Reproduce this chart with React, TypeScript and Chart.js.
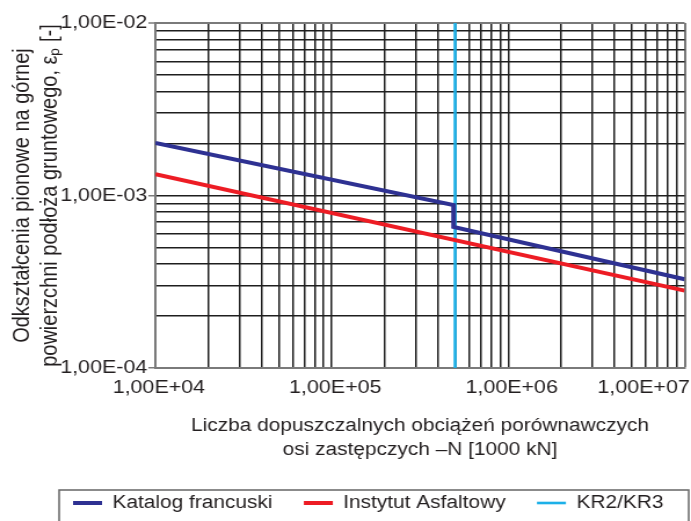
import { useEffect, useRef } from 'react';
import { Chart, registerables } from 'chart.js';

Chart.register(...registerables);

// ---------- data ----------
const katalogN = [1e4, 4.9e5, 4.9e5, 1e7];
const katalogEps = [2.02e-3, 8.8e-4, 6.57e-4, 3.27e-4];

const instytutN = [1e4, 1e7];
const instytutEps = [1.33e-3, 2.81e-4];

const kr23N = [5e5, 5e5];
const kr23Eps = [1e-4, 1e-2];

const seriesLabels = ['Katalog francuski', 'Instytut Asfaltowy', 'KR2/KR3'];

const xGridValues = [
  1e4, 2e4, 3e4, 4e4, 5e4, 6e4, 7e4, 8e4, 9e4,
  1e5, 2e5, 3e5, 4e5, 5e5, 6e5, 7e5, 8e5, 9e5,
  1e6, 2e6, 3e6, 4e6, 5e6, 6e6, 7e6, 8e6, 9e6,
  1e7,
];
const xLabelValues = [1e4, 1e5, 1e6, 1e7];
const xTickLabels = ['1,00E+04', '1,00E+05', '1,00E+06', '1,00E+07'];

const yGridValues = [
  1e-4, 2e-4, 3e-4, 4e-4, 5e-4, 6e-4, 7e-4, 8e-4, 9e-4,
  1e-3, 2e-3, 3e-3, 4e-3, 5e-3, 6e-3, 7e-3, 8e-3, 9e-3,
  1e-2,
];
const yLabelValues = [1e-4, 1e-3, 1e-2];
const yTickLabels = ['1,00E-04', '1,00E-03', '1,00E-02'];

const xTitle = ['Liczba dopuszczalnych obciążeń porównawczych', 'osi zastępczych –N [1000 kN]'];
const yTitle = ['Odkształcenia pionowe na górnej', 'powierzchni podłoża gruntowego, εₚ [-]'];

// ---------- style ----------
const FONT = '"Liberation Sans", Arial, Helvetica, sans-serif';
const TEXT = '#231f20';
const GRID = '#1e1e1e';
const FRAME = '#7a7a7a';
const BLUE = '#2e3192';
const RED = '#ed1c24';
const CYAN = '#1cb0e8';

const VIEW_W = 691;
const VIEW_H = 521;
const STRETCH = 1.16;
const CANVAS_W = Math.round(VIEW_W / STRETCH);

const near = (a: number, b: number) => Math.abs(a - b) <= Math.abs(b) * 1e-9;

const xLabelPlugin = {
  id: 'xLabels',
  afterDraw(chart: any) {
    const sc = chart.scales.x;
    const ctx = chart.ctx;
    ctx.save();
    ctx.font = `18.5px ${FONT}`;
    ctx.fillStyle = TEXT;
    ctx.textAlign = 'center';
    ctx.textBaseline = 'middle';
    xLabelValues.forEach((v, i) => {
      const label = xTickLabels[i];
      const w = ctx.measureText(label).width;
      let cx = sc.getPixelForValue(v) + 3;
      cx = Math.min(cx, chart.width - 1 - w / 2);
      cx = Math.max(cx, w / 2 + 1);
      ctx.fillText(label, cx, chart.chartArea.bottom + 20);
    });
    ctx.restore();
  },
};

const boxLegendPlugin = {
  id: 'boxLegend',
  afterDraw(chart: any) {
    const ctx = chart.ctx;
    const rowY = 503;
    const sampleW = 25;
    const gapText = 9;
    const gapItem = 27;
    ctx.save();
    ctx.strokeStyle = '#666';
    ctx.lineWidth = 1.5;
    ctx.strokeRect(51, 490, 543, 60);
    ctx.font = `18px ${FONT}`;
    ctx.textBaseline = 'middle';
    ctx.textAlign = 'left';
    let x = 63;
    chart.data.datasets.forEach((ds: any) => {
      ctx.strokeStyle = ds.borderColor;
      ctx.lineWidth = ds.borderWidth;
      ctx.beginPath();
      ctx.moveTo(x, rowY);
      ctx.lineTo(x + sampleW, rowY);
      ctx.stroke();
      x += sampleW + gapText;
      ctx.fillStyle = TEXT;
      ctx.fillText(ds.label, x, rowY);
      x += ctx.measureText(ds.label).width + gapItem;
    });
    ctx.restore();
  },
};

const gridColor = (last: number) => (c: any) => (c.index === last ? FRAME : GRID);
const gridWidth = (last: number) => (c: any) => (c.index === last ? 2 : 1.5);

export default function App() {
  const ref = useRef<HTMLCanvasElement | null>(null);

  useEffect(() => {
    if (!ref.current) return;
    const chart = new Chart(ref.current, {
      type: 'line',
      data: {
        datasets: [
          {
            label: seriesLabels[0],
            data: katalogN.map((n, i) => ({ x: n, y: katalogEps[i] })),
            borderColor: BLUE,
            backgroundColor: BLUE,
            borderWidth: 4,
            pointRadius: 0,
            tension: 0,
            borderJoinStyle: 'miter',
          },
          {
            label: seriesLabels[1],
            data: instytutN.map((n, i) => ({ x: n, y: instytutEps[i] })),
            borderColor: RED,
            backgroundColor: RED,
            borderWidth: 4,
            pointRadius: 0,
            tension: 0,
          },
          {
            label: seriesLabels[2],
            data: kr23N.map((n, i) => ({ x: n, y: kr23Eps[i] })),
            borderColor: CYAN,
            backgroundColor: CYAN,
            borderWidth: 2.6,
            pointRadius: 0,
            tension: 0,
          },
        ],
      },
      options: {
        animation: false,
        responsive: false,
        devicePixelRatio: 1,
        events: [],
        layout: { padding: { top: 23, right: 5.5, bottom: 45, left: 0 } },
        plugins: {
          legend: { display: false },
          tooltip: { enabled: false },
          title: { display: false },
        },
        scales: {
          x: {
            type: 'logarithmic',
            min: 1e4,
            max: 1e7,
            afterBuildTicks: (s: any) => {
              s.ticks = xGridValues.map((v) => ({ value: v, major: xLabelValues.some((m) => near(v, m)) }));
            },
            afterFit: (s: any) => {
              s.height = 108;
            },
            ticks: { display: false, autoSkip: false },
            grid: {
              color: gridColor(xGridValues.length - 1),
              lineWidth: gridWidth(xGridValues.length - 1),
              drawTicks: false,
            },
            border: { color: FRAME, width: 2 },
            title: {
              display: true,
              text: xTitle,
              color: TEXT,
              font: { size: 18, family: FONT, lineHeight: 1.333 },
              padding: { top: 0, bottom: 14 },
            },
          },
          y: {
            type: 'logarithmic',
            min: 1e-4,
            max: 1e-2,
            afterBuildTicks: (s: any) => {
              s.ticks = yGridValues.map((v) => ({ value: v, major: yLabelValues.some((m) => near(v, m)) }));
            },
            afterFit: (s: any) => {
              s.width = 134;
            },
            ticks: {
              autoSkip: false,
              padding: 1,
              color: TEXT,
              font: { size: 18.5, family: FONT },
              callback: (value: any) => {
                const i = yLabelValues.findIndex((m) => near(Number(value), m));
                return i >= 0 ? yTickLabels[i] : '';
              },
            },
            grid: {
              color: gridColor(yGridValues.length - 1),
              lineWidth: gridWidth(yGridValues.length - 1),
              drawTicks: true,
              tickLength: 6,
              tickWidth: 1.5,
              tickColor: (c: any) => (c.tick && c.tick.major ? FRAME : 'rgba(0,0,0,0)'),
            },
            border: { color: FRAME, width: 2 },
            title: {
              display: true,
              text: yTitle,
              color: TEXT,
              font: { size: 20, family: FONT, lineHeight: 1.2 },
              padding: { top: 7, bottom: 0 },
            },
          },
        },
      },
      plugins: [xLabelPlugin, boxLegendPlugin],
    } as any);
    return () => chart.destroy();
  }, []);

  return (
    <div style={{ position: 'absolute', left: 0, top: 0, width: VIEW_W, height: VIEW_H, background: '#fff' }}>
      <canvas
        ref={ref}
        width={CANVAS_W}
        height={VIEW_H}
        style={{ width: `${VIEW_W}px`, height: `${VIEW_H}px`, display: 'block' }}
      />
    </div>
  );
}
